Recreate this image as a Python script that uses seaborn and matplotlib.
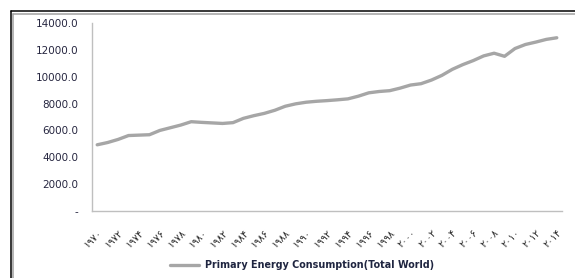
import matplotlib
matplotlib.use("Agg")
import matplotlib.pyplot as plt
import seaborn as sns
import pandas as pd
from matplotlib.lines import Line2D

years = list(range(1970, 2015))
consumption = [4930, 5100, 5330, 5620, 5650, 5680, 6000, 6200, 6400, 6650,
               6600, 6560, 6520, 6580, 6900, 7100, 7270, 7500, 7800, 7980,
               8100, 8170, 8220, 8280, 8350, 8550, 8800, 8900, 8960, 9150,
               9380, 9480, 9750, 10100, 10550, 10900, 11200, 11550, 11750, 11520,
               12100, 12400, 12580, 12780, 12900]
series_name = "Primary Energy Consumption(Total World)"
tick_years = list(range(1970, 2015, 2))
y_ticks = [0, 2000, 4000, 6000, 8000, 10000, 12000, 14000]

persian = str.maketrans("0123456789", "۰۱۲۳۴۵۶۷۸۹")
tick_labels = [str(y).translate(persian) for y in tick_years]
y_labels = ["-" if v == 0 else f"{v:.1f}" for v in y_ticks]

df = pd.DataFrame({"year": years, "value": consumption, "series": series_name})

sns.set_theme(style="white")
plt.rcParams["font.family"] = ["DejaVu Sans"]

fig = plt.figure(figsize=(5.75, 2.78), dpi=100)
ax = fig.add_axes([92 / 575, 1 - 211 / 278, 470 / 575, 188 / 278])

sns.lineplot(data=df, x="year", y="value", hue="series", palette=["#A6A6A6"],
             linewidth=2.4, ax=ax, legend=True)

ax.set_xlim(1969.5, 2014.5)
ax.set_ylim(0, 14000)
ax.set_xticks(tick_years)
ax.set_xticklabels(tick_labels, rotation=45, ha="right", rotation_mode="anchor",
                   fontsize=7, color="#262626")
ax.set_yticks(y_ticks)
ax.set_yticklabels(y_labels, fontsize=7.5, color="#262640")
ax.tick_params(axis="both", length=0)
ax.tick_params(axis="y", pad=10)
ax.tick_params(axis="x", pad=12)
ax.set_xlabel("")
ax.set_ylabel("")
for s in ["top", "right"]:
    ax.spines[s].set_visible(False)
ax.spines["left"].set_color("#BFBFBF")
ax.spines["bottom"].set_color("#BFBFBF")
ax.spines["left"].set_linewidth(1)
ax.spines["bottom"].set_linewidth(1)

handles, labels = ax.get_legend_handles_labels()
ax.get_legend().remove()
fig.legend(handles, labels, loc="center", bbox_to_anchor=(302 / 575, 1 - 265 / 278),
           frameon=False, handlelength=3.0, handletextpad=0.6,
           labelcolor="#1F2540", prop={"weight": "bold", "size": 6.9})

# outer frame (double line)
W, H = 575, 278
fig.add_artist(Line2D([11 / W, 11 / W], [0, 1 - 11 / H], color="black", lw=1.1))
fig.add_artist(Line2D([11 / W, 1], [1 - 11 / H, 1 - 11 / H], color="black", lw=1.1))
fig.add_artist(Line2D([13.5 / W, 13.5 / W], [0, 1 - 14 / H], color="#A0A0A0", lw=1.1))
fig.add_artist(Line2D([13.5 / W, 1], [1 - 14 / H, 1 - 14 / H], color="#A0A0A0", lw=1.1))

fig.savefig("out.png", dpi=100)
